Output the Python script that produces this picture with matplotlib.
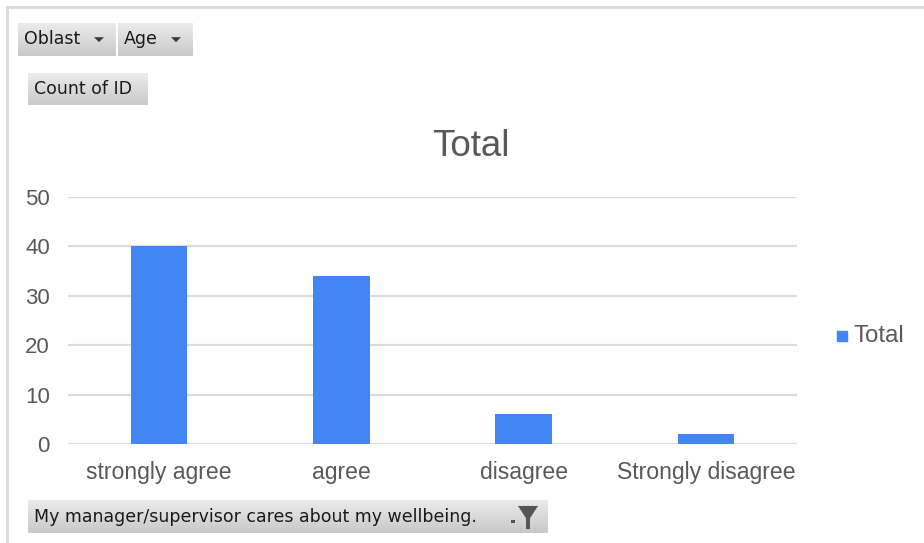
import matplotlib
matplotlib.use("Agg")
import matplotlib.pyplot as plt
import numpy as np
from matplotlib.patches import Rectangle
from matplotlib.lines import Line2D
from matplotlib.colors import LinearSegmentedColormap

categories = ["strongly agree", "agree", "disagree", "Strongly disagree"]
counts = [40, 34, 6, 2]
series_name = "Total"
y_ticks = [0, 10, 20, 30, 40, 50]

W, H = 924, 543
fig = plt.figure(figsize=(W / 100, H / 100), dpi=100)
fig.patch.set_facecolor("white")

def px(x, y):
    return x / W, 1 - y / H

# outer frame (top and left edges)
fig.add_artist(Line2D([px(7, 0)[0], 1], [px(0, 7)[1]] * 2, color="#d9d9d9", lw=2))
fig.add_artist(Line2D([px(7, 0)[0]] * 2, [0, px(0, 7)[1]], color="#d9d9d9", lw=2))

grad = np.linspace(0, 1, 64).reshape(-1, 1)
btn_cmap = LinearSegmentedColormap.from_list("btn", ["#ececec", "#c9c9c9"])

def button(x0, y0, x1, y1, label, arrow=False, funnel=False):
    l, t = px(x0, y0)
    r, b = px(x1, y1)
    ax = fig.add_axes([l, b, r - l, t - b])
    ax.imshow(grad, aspect="auto", cmap=btn_cmap, extent=(0, 1, 0, 1), origin="upper")
    ax.set_xlim(0, 1)
    ax.set_ylim(0, 1)
    ax.axis("off")
    fw = x1 - x0
    ax.text(6 / fw, 0.5, label, ha="left", va="center", fontsize=12.5,
            family="DejaVu Sans", color="#1a1a1a")
    if arrow:
        cx = 1 - 17 / fw
        ax.add_patch(plt.Polygon([[cx - 5 / fw, 0.57], [cx + 5 / fw, 0.57], [cx, 0.42]],
                                 color="#3a3a3a", lw=0))
    if funnel:
        cx = 1 - 20 / fw
        ax.add_patch(plt.Polygon([[cx - 10 / fw, 0.82], [cx + 10 / fw, 0.82],
                                  [cx + 2 / fw, 0.45], [cx + 2 / fw, 0.12],
                                  [cx - 2 / fw, 0.12], [cx - 2 / fw, 0.45]],
                                 color="#555555", lw=0))
        ax.add_patch(Rectangle((cx - 17 / fw, 0.3), 4 / fw, 0.08, color="#555555", lw=0))

button(18, 23, 116, 56, "Oblast", arrow=True)
button(118, 23, 193, 56, "Age", arrow=True)
button(28, 73, 148, 105, "Count of ID")
button(28, 500, 548, 533, "My manager/supervisor cares about my wellbeing.", funnel=True)

# main chart
l, t = px(68, 197)
r, b = px(797, 444)
ax = fig.add_axes([l, b, r - l, t - b])
x = np.arange(len(categories))
ax.bar(x, counts, width=0.31, color="#4285f4", zorder=3, label=series_name)
ax.set_xlim(-0.5, len(categories) - 0.5)
ax.set_ylim(0, 50)
ax.set_yticks(y_ticks)
ax.set_xticks(x)
ax.set_xticklabels(categories)
for s in ax.spines.values():
    s.set_visible(False)
ax.grid(axis="y", color="#dcdcdc", lw=1.6, zorder=0)
ax.tick_params(axis="both", length=0, labelsize=16, labelcolor="#595959")
ax.tick_params(axis="x", labelsize=16.6, pad=12)
ax.tick_params(axis="y", pad=13)
for lab in ax.get_xticklabels() + ax.get_yticklabels():
    lab.set_family("Liberation Sans")

fig.text(px(471, 0)[0], px(0, 147)[1], series_name, ha="center", va="center",
         fontsize=26.5, color="#595959", family="Liberation Sans")

# legend
fig.add_artist(Rectangle(px(837, 341), 10 / W, 10 / H, color="#4285f4", transform=fig.transFigure))
fig.text(px(854, 0)[0], px(0, 336)[1], series_name, ha="left", va="center",
         fontsize=17.3, color="#595959", family="Liberation Sans")

fig.savefig("out.png", dpi=100, facecolor="white")
